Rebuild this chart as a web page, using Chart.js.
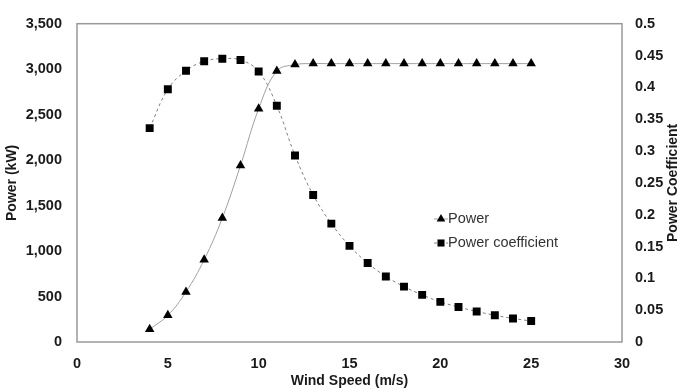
<!DOCTYPE html>
<html>
<head>
<meta charset="utf-8">
<script src="https://cdn.jsdelivr.net/npm/chart.js@4"></script>
<style>
html,body{margin:0;padding:0;background:#fff;}
#wrap{width:680px;height:391px;position:relative;}
</style>
</head>
<body>
<div id="wrap"><canvas id="c" width="680" height="391"></canvas></div>
<script>
// ---- data ----
const windSpeed = [4,5,6,7,8,9,10,11,12,13,14,15,16,17,18,19,20,21,22,23,24,25];
const power = [140,293,551,905,1364,1941,2564,2979,3050,3061,3061,3061,3061,3061,3061,3061,3061,3061,3061,3061,3061,3061];
const powerCoefficient = [0.336,0.397,0.426,0.441,0.445,0.443,0.425,0.371,0.293,0.231,0.186,0.151,0.124,0.103,0.087,0.074,0.063,0.055,0.048,0.042,0.037,0.033];
const seriesNames = ['Power','Power coefficient'];
const xTitle = 'Wind Speed (m/s)';
const yLeftTitle = 'Power (kW)';
const yRightTitle = 'Power Coefficient';

const FONT = "'Liberation Sans', Arial, sans-serif";
const tickFont = {family: FONT, size: 14.5, weight: 'bold'};
const titleFont = {family: FONT, size: 14, weight: 'bold', lineHeight: 1.0};
const TXT = '#1a1a1a';

const toPts = (xs, ys) => xs.map((x, i) => ({x: x, y: ys[i]}));

const borderPlugin = {
  id: 'plotBorder',
  beforeDatasetsDraw(chart) {
    const a = chart.chartArea, ctx = chart.ctx;
    ctx.save();
    ctx.strokeStyle = '#999';
    ctx.lineWidth = 1.5;
    ctx.strokeRect(a.left, a.top, a.right - a.left, a.bottom - a.top);
    ctx.restore();
  }
};

// right axis title, reading bottom-to-top as in the reference
const rightTitlePlugin = {
  id: 'rightTitle',
  afterDraw(chart) {
    const ctx = chart.ctx, a = chart.chartArea;
    ctx.save();
    ctx.translate(673, (a.top + a.bottom) / 2);
    ctx.rotate(-Math.PI / 2);
    ctx.font = "bold 14px " + FONT;
    ctx.fillStyle = TXT;
    ctx.textAlign = 'center';
    ctx.textBaseline = 'middle';
    ctx.fillText(yRightTitle, 0, 0);
    ctx.restore();
  }
};

const legendPlugin = {
  id: 'insideLegend',
  afterDraw(chart) {
    const ctx = chart.ctx;
    const x0 = 441, ys = [219, 243];
    ctx.save();
    chart.data.datasets.forEach((ds, i) => {
      const y = ys[i];
      ctx.strokeStyle = ds.borderColor;
      ctx.lineWidth = 1;
      ctx.setLineDash(ds.borderDash || []);
      ctx.beginPath(); ctx.moveTo(x0 - 7, y); ctx.lineTo(x0 + 7, y); ctx.stroke();
      ctx.setLineDash([]);
      ctx.fillStyle = '#000';
      ctx.strokeStyle = '#000';
      Chart.helpers.drawPoint(ctx, {pointStyle: ds.pointStyle, radius: 5, borderWidth: 0, rotation: 0}, x0, y);
      ctx.fillStyle = '#333';
      ctx.font = "14.5px " + FONT;
      ctx.textBaseline = 'middle';
      ctx.textAlign = 'left';
      ctx.fillText(ds.label, x0 + 7, y);
    });
    ctx.restore();
  }
};

new Chart(document.getElementById('c'), {
  type: 'scatter',
  data: {
    datasets: [
      {
        label: seriesNames[0],
        data: toPts(windSpeed, power),
        yAxisID: 'y',
        showLine: true,
        tension: 0.4,
        borderColor: '#a0a0a0',
        borderWidth: 1,
        pointStyle: 'triangle',
        pointRadius: 5.5,
        pointBackgroundColor: '#000',
        pointBorderColor: '#000',
        pointBorderWidth: 0
      },
      {
        label: seriesNames[1],
        data: toPts(windSpeed, powerCoefficient),
        yAxisID: 'y1',
        showLine: true,
        tension: 0.4,
        borderColor: '#808080',
        borderWidth: 1,
        borderDash: [3, 3],
        pointStyle: 'rect',
        pointRadius: 5.6,
        pointBackgroundColor: '#000',
        pointBorderColor: '#000',
        pointBorderWidth: 0
      }
    ]
  },
  options: {
    responsive: false,
    animation: false,
    layout: {padding: {top: 17, left: 0, right: 0, bottom: 0}},
    plugins: {legend: {display: false}, tooltip: {enabled: false}},
    scales: {
      x: {
        type: 'linear', position: 'bottom', min: 0, max: 30,
        ticks: {stepSize: 5, color: TXT, font: tickFont, padding: 13, maxRotation: 0},
        grid: {display: false, drawTicks: false},
        border: {display: false},
        title: {display: true, text: xTitle, color: TXT, font: titleFont, padding: {top: 0, bottom: 3}},
        afterFit(s) { s.height = 49; }
      },
      y: {
        type: 'linear', position: 'left', min: 0, max: 3500,
        ticks: {stepSize: 500, color: TXT, font: tickFont, padding: 15,
          callback: v => v.toLocaleString('en-US')},
        grid: {display: false, drawTicks: false},
        border: {display: false},
        title: {display: true, text: yLeftTitle, color: TXT, font: titleFont, padding: {top: 5, bottom: 0}},
        afterFit(s) { s.width = 77; }
      },
      y1: {
        type: 'linear', position: 'right', min: 0, max: 0.5,
        ticks: {stepSize: 0.05, color: TXT, font: tickFont, padding: 13,
          callback: v => String(Number(v.toFixed(2)))},
        grid: {display: false, drawTicks: false},
        border: {display: false},
        title: {display: false},
        afterFit(s) { s.width = 58; }
      }
    }
  },
  plugins: [borderPlugin, legendPlugin, rightTitlePlugin]
});
</script>
</body>
</html>
